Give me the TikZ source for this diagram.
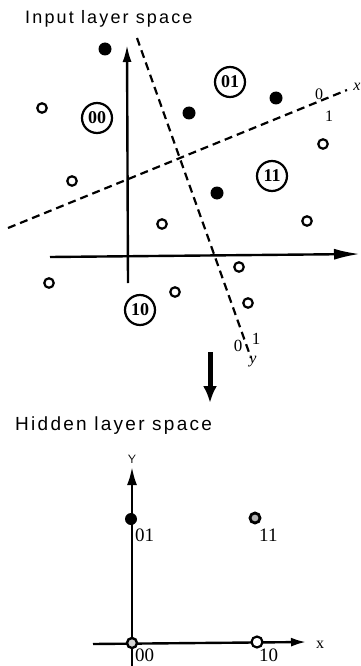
\documentclass[tikz,border=0pt]{standalone}
\usepackage{fontspec}
\setmainfont{Liberation Serif}
\newfontfamily\spacefont[LetterSpace=12]{Liberation Sans}
\usetikzlibrary{arrows.meta,positioning}

\begin{document}
\begin{tikzpicture}[x=1pt, y=-1pt, >=Latex, every node/.style={inner sep=0pt, font=\fontsize{16}{18}\selectfont},
    axis/.style={line width=2.4pt},
    boundary/.style={line width=2.2pt, dash pattern=on 8pt off 5pt},
    full/.style={circle, fill=black, minimum size=13pt},
    hollow/.style={circle, draw=black, fill=white, line width=2.2pt, minimum size=9.5pt},
    region/.style={circle, draw=black, fill=white, line width=2.2pt, minimum size=30pt, font=\fontsize{18}{20}\selectfont\bfseries},
    caption/.style={anchor=base west, font=\spacefont\fontsize{18}{20}\selectfont}]
    \useasboundingbox (0,0) rectangle (361,666);
    \node[caption] (intitle) at (25,24) {Input layer space};
    \coordinate (vbot) at (128,283);
    \coordinate (vtop) at (127,45);
    \coordinate (hleft) at (50,257);
    \coordinate (hright) at (360,254);
    \coordinate (xa) at (8,228);
    \coordinate (xb) at (347,90);
    \coordinate (ya) at (137,38);
    \coordinate (yb) at (251,358);
    \draw[boundary] (xa) -- (xb);
    \draw[boundary] (ya) -- (yb);
    \draw[axis, -{Latex[length=17pt, width=9pt]}] (vbot) -- (vtop);
    \draw[axis, -{Latex[length=26pt, width=11pt]}] (hleft) -- (hright);
    \foreach \pos [count=\i] in {(105,49),(189,113),(276,98),(217,193)}
        \node[full] (f\i) at \pos {};
    \foreach \pos [count=\i] in {(42,108),(72,181),(162,224),(307,221),(323,144),(49,283),(239,267),(175,292),(248,303)}
        \node[hollow] (o\i) at \pos {};
    \node[region] (r00) at (97,118) {00};
    \node[region] (r01) at (230,82) {01};
    \node[region] (r11) at (272,176) {11};
    \node[region] (r10) at (140,310) {10};
    \node[font=\fontsize{16}{18}\selectfont\itshape] (xlab) at (357,87) {x};
    \node (xzero) at (319,94) {0};
    \node (xone) at (329,116) {1};
    \node[font=\fontsize{17}{19}\selectfont] (yzero) at (238,346) {0};
    \node[font=\fontsize{17}{19}\selectfont] (yone) at (256,339) {1};
    \node[font=\fontsize{16}{18}\selectfont\itshape] (ylab) at (253,362) {y};
    \coordinate (dtop) at (210,352);
    \coordinate (dbot) at (210,403);
    \draw[line width=5pt, -{Latex[length=17pt, width=14pt]}] (dtop) -- (dbot);
    \node[caption, font=\spacefont\fontsize{19}{21}\selectfont] (hidtitle) at (15,430) {Hidden layer space};
    \coordinate (hvbot) at (132,666);
    \coordinate (hvtop) at (132,467);
    \coordinate (hhleft) at (93,644);
    \coordinate (hhright) at (306,642);
    \draw[axis, -{Latex[length=18pt, width=10pt]}] (hvbot) -- (hvtop);
    \draw[axis, -{Latex[length=15pt, width=9pt]}] (hhleft) -- (hhright);
    \node[font=\sffamily\fontsize{12}{14}\selectfont] (hylab) at (132,459) {Y};
    \node[font=\fontsize{16}{18}\selectfont] (hxlab) at (320,645) {x};
    \node[full, minimum size=12pt] (h01) at (131,519) {};
    \node[circle, draw=black, fill=gray!60, line width=2.8pt, minimum size=10pt] (h11) at (255,518) {};
    \node[circle, draw=black, fill=gray!35, line width=2.4pt, minimum size=10pt] (h00) at (132,643) {};
    \node[hollow, minimum size=11pt] (h10) at (257,642) {};
    \node[anchor=base west, font=\fontsize{19}{21}\selectfont] at (135,541) {01};
    \node[anchor=base west, font=\fontsize{19}{21}\selectfont] at (259,541) {11};
    \node[anchor=base west, font=\fontsize{19}{21}\selectfont] at (135,661) {00};
    \node[anchor=base west, font=\fontsize{19}{21}\selectfont] at (259,661) {10};
\end{tikzpicture}
\end{document}
